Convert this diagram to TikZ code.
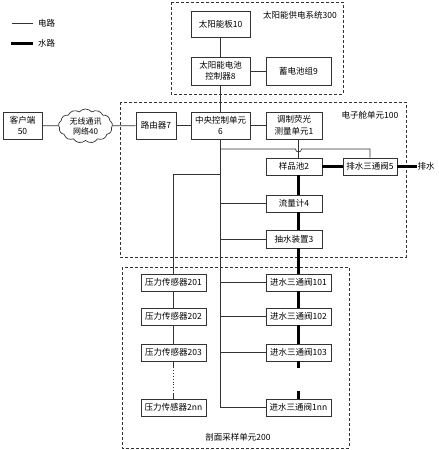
\documentclass[tikz,border=0pt]{standalone}
\usepackage{fontspec}
\setmainfont{Noto Sans CJK SC}
\usetikzlibrary{shapes.symbols}
\definecolor{ln}{HTML}{333333}
\tikzset{
  box/.style={draw=ln, line width=0.7pt, minimum width=#1, inner sep=0pt, align=center, font=\fontsize{8.5}{11.5}\selectfont},
  box/.default=56pt,
  grp/.style={draw=ln, dashed, line width=0.7pt, dash pattern=on 3pt off 2pt},
  elec/.style={draw=ln, line width=0.7pt},
  water/.style={draw=black, line width=3pt},
  lbl/.style={font=\fontsize{8.5}{11}\selectfont, inner sep=0pt},
}
\begin{document}
\begin{tikzpicture}[x=1pt,y=-1pt]
\useasboundingbox (0,0) rectangle (439,450);
% groups
\draw[grp] (171,2) rectangle (343,94);
\draw[grp] (120,102) rectangle (406,257);
\draw[grp] (122,267) rectangle (349,448);
\node[lbl] (t300) at (300,15) {太阳能供电系统300};
\node[lbl] (t100) at (370,115) {电子舱单元100};
\node[lbl] (t200) at (238,437) {剖面采样单元200};
% legend
\coordinate (la) at (12,23); \coordinate (lb) at (33,23);
\coordinate (lc) at (11,43); \coordinate (ld) at (33,43);
\draw[elec] (la) -- (lb);
\draw[water] (lc) -- (ld);
\node[lbl, anchor=west] (le) at (38,23) {电路};
\node[lbl, anchor=west] (lw) at (38,43) {水路};
% solar
\node[box=59pt, minimum height=26pt] (solar) at (220.5,24) {太阳能板10};
\node[box=59pt, minimum height=28pt] (ctrl) at (220.5,71) {太阳能电池\\控制器8};
\node[box=65pt, minimum height=28pt] (bat) at (298.5,71) {蓄电池组9};
% row
\node[box=39pt, minimum height=27pt] (client) at (22.5,125.5) {客户端\\50};
\node[cloud, draw=ln, line width=0.7pt, cloud puffs=13, cloud puff arc=100, aspect=1.7, minimum width=54pt, minimum height=34pt, inner sep=0pt] (net) at (85.5,126) {};
\node[lbl, align=center, font=\fontsize{8}{10}\selectfont] (netl) at (net.center) {无线通讯\\网络40};
\node[box=40pt, minimum height=27pt] (router) at (156,125.5) {路由器7};
\node[box=59pt, minimum height=27pt] (cpu) at (220.5,125.5) {中央控制单元\\6};
\node[box=56pt, minimum height=27pt] (fluor) at (294,125.5) {调制荧光\\测量单元1};
% electronics
\node[box=56pt, minimum height=17pt] (sample) at (294,166.5) {样品池2};
\node[box=54pt, minimum height=17pt] (drain) at (370,166.5) {排水三通阀5};
\node[lbl] (drainout) at (426,166.5) {排水};
\node[box=56pt, minimum height=17pt] (flow) at (294,203.5) {流量计4};
\node[box=56pt, minimum height=18pt] (pump) at (294,239) {抽水装置3};
% sensors
\node[box=65pt, minimum height=17pt] (p1) at (173.5,282.5) {压力传感器201};
\node[box=65pt, minimum height=17pt] (p2) at (173.5,316.5) {压力传感器202};
\node[box=65pt, minimum height=17pt] (p3) at (173.5,352.5) {压力传感器203};
\node[box=65pt, minimum height=17pt] (pn) at (173.5,407.5) {压力传感器2nn};
% valves
\node[box=65pt, minimum height=17pt] (v1) at (298.5,282.5) {进水三通阀101};
\node[box=65pt, minimum height=17pt] (v2) at (298.5,316.5) {进水三通阀102};
\node[box=65pt, minimum height=17pt] (v3) at (298.5,352.5) {进水三通阀103};
\node[box=65pt, minimum height=17pt] (vn) at (298.5,407.5) {进水三通阀1nn};
% electrical connections
\draw[elec] (solar) -- (ctrl);
\draw[elec] (ctrl) -- (bat);
\draw[elec] (ctrl) -- (cpu);
\draw[elec] (client) -- (net);
\draw[elec] (net) -- (router);
\draw[elec] (router) -- (cpu);
\draw[elec] (cpu) -- (fluor);
\coordinate (trunkEnd) at (cpu.south |- vn.west);
\draw[elec] (cpu.south) -- (trunkEnd) -- (vn.west);
\draw[elec] (cpu.south |- v1.west) -- (v1.west);
\draw[elec] (cpu.south |- v2.west) -- (v2.west);
\draw[elec] (cpu.south |- v3.west) -- (v3.west);
\draw[elec] (cpu.south |- flow.west) -- (flow.west);
\draw[elec] (cpu.south |- pump.west) -- (pump.west);
\coordinate (hopL) at (295.5,149);
\coordinate (hopR) at (301.5,149);
\draw[elec] (cpu.south |- hopL) -- (hopL) arc[start angle=180, end angle=0, radius=3] -- (drain.north |- hopL) -- (drain.north);
\draw[elec] (fluor.south -| v1.north) -- (sample.north -| v1.north);
\coordinate (pj) at (cpu.south |- 0,174);
\draw[elec] (pj) -- (pj -| p1.north) -- (p1.north);
\draw[elec] (p1) -- (p2);
\draw[elec] (p2) -- (p3);
\coordinate (pdA) at (173.5,367);
\coordinate (pdB) at (173.5,393);
\draw[elec] (p3.south) -- (pdA);
\draw[ln, line width=0.9pt, dotted] (pdA) -- (pdB);
\draw[elec] (pdB) -- (pn.north);
% water connections
\draw[water] (sample) -- (drain);
\draw[water] (drain) -- (drainout.west);
\draw[water] (sample.south -| v1.north) -- (flow.north -| v1.north);
\draw[water] (flow.south -| v1.north) -- (pump.north -| v1.north);
\draw[water] (pump.south -| v1.north) -- (v1.north);
\draw[water] (v1) -- (v2);
\draw[water] (v2) -- (v3);
\coordinate (wdA) at (298.5,368);
\coordinate (wdB) at (298.5,391);
\draw[water] (v3.south) -- (wdA);
\draw[water] (wdB) -- (vn.north);
\end{tikzpicture}
\end{document}
